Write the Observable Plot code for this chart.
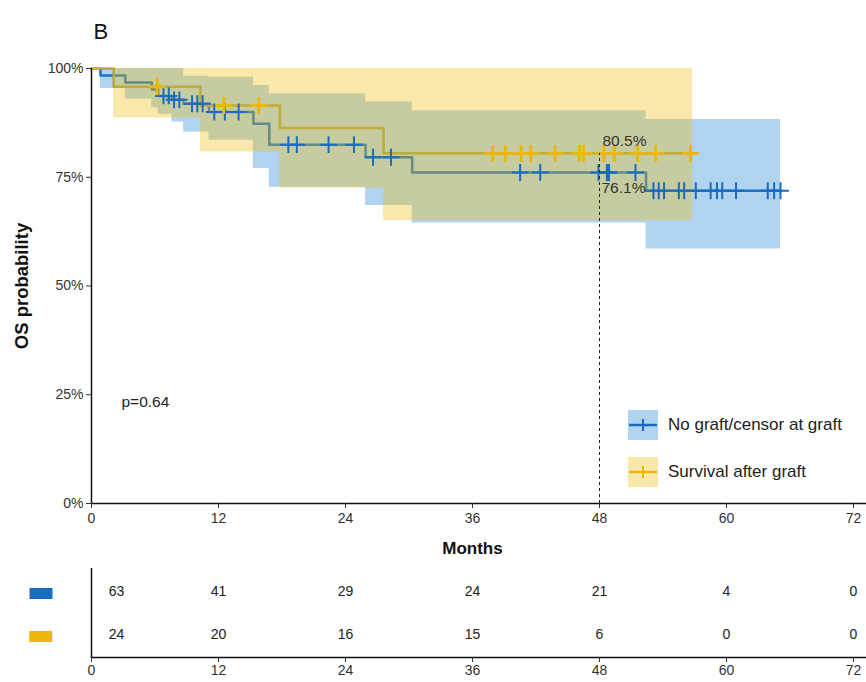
<!DOCTYPE html>
<html>
<head>
<meta charset="utf-8">
<script src="https://cdn.jsdelivr.net/npm/d3@7"></script>
<script src="https://cdn.jsdelivr.net/npm/@observablehq/plot@0.6"></script>
<style>
  body { margin: 0; background: #fff; }
  #wrap { position: relative; width: 866px; height: 682px; font-family: "Liberation Sans", Arial, sans-serif; color: #222; }
  #wrap svg { display: block; }
  .legend { position: absolute; left: 628px; top: 410px; }
  .legend .item { display: flex; align-items: center; height: 30px; margin-bottom: 17px; font-size: 17px; color: #222; }
  .legend .item svg { margin-right: 10px; }
</style>
</head>
<body>
<div id="wrap"></div>
<script>
// Kaplan–Meier overall survival: step times (months), estimate and 95% CI (%)
const noGraftTime  = [0, 0.85, 3.2, 5.7, 6.3, 7.6, 8.7, 11.1, 15.3, 16.8, 25.9, 30.3, 52.4, 65.1];
const noGraftSurv  = [100, 98.4, 96.8, 95.2, 93.7, 92.8, 91.9, 90.0, 87.3, 82.5, 79.6, 76.1, 71.9, 71.9];
const noGraftLower = [100, 95.4, 93.0, 91.0, 89.5, 87.7, 85.4, 83.5, 77.0, 72.7, 68.5, 64.5, 58.5, 58.5];
const noGraftUpper = [100, 100, 100, 100, 100, 100, 98.2, 98.0, 96.1, 94.2, 92.3, 90.3, 88.3, 88.3];
const noGraftCensor = [6.8, 7.3, 7.8, 8.3, 9.5, 10.0, 10.5, 11.6, 12.6, 13.9, 18.6, 19.4, 22.4, 24.8,
  26.6, 28.3, 40.5, 42.4, 47.9, 48.7, 48.8, 48.9, 51.4, 53.1, 53.6, 54.1, 55.5, 56.0, 57.1, 58.5,
  59.1, 59.6, 60.9, 63.9, 64.5, 65.1];

const graftTime  = [0, 2.1, 10.3, 17.8, 27.6, 56.8];
const graftSurv  = [100, 95.8, 91.5, 86.3, 80.5, 80.5];
const graftLower = [100, 88.6, 80.8, 72.5, 65.0, 65.0];
const graftUpper = [100, 100, 100, 100, 100, 100];
const graftCensor = [6.2, 12.5, 15.8, 37.9, 39.1, 40.6, 41.5, 43.8, 46.1, 46.5, 48.4, 49.4, 51.6, 53.3, 56.6];

// Numbers at risk
const riskMonths  = [0, 12, 24, 36, 48, 60, 72];
const riskNoGraft = [63, 41, 29, 24, 21, 4, 0];
const riskGraft   = [24, 20, 16, 15, 6, 0, 0];

const groupLabels = ["No graft/censor at graft", "Survival after graft"];
const yTicks = [0, 25, 50, 75, 100];
const landmark = 48;
const pValue = "p=0.64";

const blue = "#1a6cc0", yellow = "#eab70a";
const blueBand = "#1e84d4", yellowBand = "#f1ba0c";
const font = '"Liberation Sans", Arial, sans-serif';

function rows(time, surv, lo, hi) {
  return time.map((t, i) => ({t, s: surv[i], lo: lo[i], hi: hi[i]}));
}
const noGraft = rows(noGraftTime, noGraftSurv, noGraftLower, noGraftUpper);
const graft = rows(graftTime, graftSurv, graftLower, graftUpper);

function survAt(data, t) {
  let v = data[0].s;
  for (const d of data) if (d.t <= t) v = d.s;
  return v;
}
const censNo = noGraftCensor.map(t => ({t, s: survAt(noGraft, t)}));
const censG = graftCensor.map(t => ({t, s: survAt(graft, t)}));
const atLandmarkG = [{t: landmark, s: survAt(graft, landmark)}];
const atLandmarkNo = [{t: landmark, s: survAt(noGraft, landmark)}];

const wrap = document.getElementById("wrap");

// the x range stops short of the right edge so the axis line runs on past 72
const xScale = {domain: [0, 72], range: [91, 853]};

const main = Plot.plot({
  width: 866, height: 560,
  marginLeft: 91, marginRight: 0, marginTop: 68, marginBottom: 57,
  style: {fontFamily: font, fontSize: "14px", color: "#333", background: "white", overflow: "visible"},
  x: xScale,
  y: {domain: [0, 100]},
  marks: [
    // curves sit beneath the translucent confidence bands
    Plot.line(noGraft, {x: "t", y: "s", curve: "step-after", stroke: blue, strokeWidth: 2.5}),
    Plot.line(graft, {x: "t", y: "s", curve: "step-after", stroke: yellow, strokeWidth: 2.5}),
    Plot.areaY(noGraft, {x: "t", y1: "lo", y2: "hi", curve: "step-after", fill: blueBand, fillOpacity: 0.35}),
    Plot.areaY(graft, {x: "t", y1: "lo", y2: "hi", curve: "step-after", fill: yellowBand, fillOpacity: 0.35}),
    // censoring ticks
    Plot.dot(censNo, {x: "t", y: "s", symbol: "plus", r: 5.5, stroke: blue, strokeWidth: 2}),
    Plot.dot(censG, {x: "t", y: "s", symbol: "plus", r: 5.5, stroke: yellow, strokeWidth: 2.8}),
    // 48-month landmark
    Plot.ruleX(atLandmarkG, {x: "t", y1: 0, y2: "s", stroke: "#222", strokeWidth: 1, strokeDasharray: "3,3"}),
    Plot.text(atLandmarkG, {x: "t", y: "s", text: d => d.s.toFixed(1) + "%", textAnchor: "start", dx: 3, dy: -12, fontSize: 15.5, fill: "#333"}),
    Plot.text(atLandmarkNo, {x: "t", y: "s", text: d => d.s.toFixed(1) + "%", textAnchor: "start", dx: 2, dy: 16, fontSize: 15.5, fill: "#333"}),
    // axes
    Plot.ruleX([0], {stroke: "#111", strokeWidth: 1.5}),
    Plot.ruleY([0], {stroke: "#111", strokeWidth: 1.5}),
    Plot.axisX({ticks: riskMonths, tickSize: 5, tickPadding: 5, label: null, fontSize: 14}),
    Plot.axisY({ticks: yTicks, tickFormat: d => d + "%", tickSize: 5, tickPadding: 3, label: null, fontSize: 14}),
    Plot.text(["OS probability"], {frameAnchor: "left", rotate: -90, dx: -69, textAnchor: "middle", fontWeight: "bold", fontSize: 18.5, fill: "#111"}),
    Plot.text(["Months"], {x: [36], frameAnchor: "bottom", dy: 50, fontWeight: "bold", fontSize: 17, fill: "#111"}),
    Plot.text([pValue], {frameAnchor: "bottom-left", dx: 30, dy: -97, textAnchor: "start", fontSize: 15.5, fill: "#222"}),
    Plot.text(["B"], {frameAnchor: "top-left", dx: 2, dy: -45, textAnchor: "start", fontSize: 22, fill: "#111"})
  ]
});
wrap.appendChild(main);

// Number-at-risk table
const riskRows = [];
riskMonths.forEach((m, i) => {
  riskRows.push({group: groupLabels[0], m, n: riskNoGraft[i]});
  riskRows.push({group: groupLabels[1], m, n: riskGraft[i]});
});

const table = Plot.plot({
  width: 866, height: 122,
  marginLeft: 91, marginRight: 0, marginTop: 8, marginBottom: 25,
  style: {fontFamily: font, fontSize: "14px", color: "#333", background: "white", overflow: "visible"},
  x: xScale,
  y: {type: "point", domain: groupLabels, padding: 0.52, axis: null},
  marks: [
    Plot.frame({anchor: "bottom", stroke: "#111", strokeWidth: 1.5}),
    Plot.ruleX([0], {stroke: "#111", strokeWidth: 1.5}),
    Plot.axisX({ticks: riskMonths, tickSize: 5, tickPadding: 3, label: null, fontSize: 14}),
    Plot.text(riskRows.filter(d => d.m > 0), {x: "m", y: "group", text: "n", fontSize: 14, fill: "#222"}),
    Plot.text(riskRows.filter(d => d.m === 0), {x: "m", y: "group", text: "n", dx: 25, fontSize: 14, fill: "#222"}),
    Plot.text([groupLabels[0]], {y: d => d, frameAnchor: "left", dx: -65, text: () => "\u25AC", fontSize: 30, fill: blue, fontFamily: "DejaVu Sans"}),
    Plot.text([groupLabels[1]], {y: d => d, frameAnchor: "left", dx: -65, text: () => "\u25AC", fontSize: 30, fill: yellow, fontFamily: "DejaVu Sans"})
  ]
});
wrap.appendChild(table);

// Legend
const legend = document.createElement("div");
legend.className = "legend";
[[groupLabels[0], blue, blueBand], [groupLabels[1], yellow, yellowBand]].forEach(([label, stroke, band]) => {
  const item = document.createElement("div");
  item.className = "item";
  item.innerHTML = `<svg width="30" height="30"><rect width="30" height="30" fill="${band}" fill-opacity="0.35"></rect>
    <line x1="1" x2="29" y1="15" y2="15" stroke="${stroke}" stroke-width="2.5"></line>
    <line x1="15" x2="15" y1="9" y2="21" stroke="${stroke}" stroke-width="2"></line></svg><span>${label}</span>`;
  legend.appendChild(item);
});
wrap.appendChild(legend);
</script>
</body>
</html>
